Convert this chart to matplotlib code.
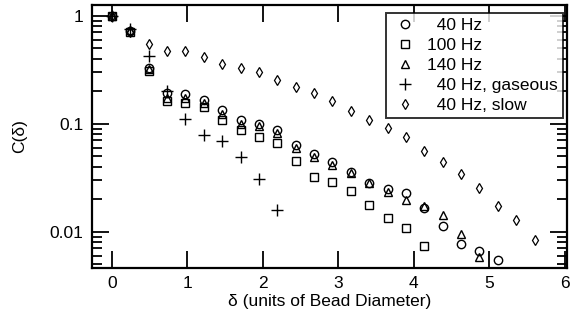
import numpy as np
import matplotlib
matplotlib.use("Agg")
import matplotlib.pyplot as plt
from matplotlib.ticker import FixedLocator, FixedFormatter, LogLocator, NullFormatter

plt.rcParams['font.family'] = ['Liberation Sans', 'DejaVu Sans']

step = 0.2435  # spacing of the bins in bead diameters

c_40 = [1.0, 0.72, 0.33, 0.192, 0.19, 0.167, 0.133, 0.107, 0.1, 0.088, 0.064,
        0.0524, 0.0443, 0.0358, 0.028, 0.0248, 0.0226, 0.0167, 0.0112, 0.0076,
        0.0066, 0.0055]
c_100 = [1.0, 0.70, 0.31, 0.161, 0.157, 0.143, 0.109, 0.088, 0.076, 0.066, 0.045,
         0.0322, 0.0289, 0.024, 0.0175, 0.0133, 0.0108, 0.0073]
c_140 = [1.0, 0.74, 0.32, 0.174, 0.173, 0.156, 0.123, 0.1, 0.096, 0.082, 0.06,
         0.0487, 0.041, 0.035, 0.028, 0.0233, 0.0198, 0.0174, 0.0141, 0.0094,
         0.0058]
c_gas = [1.0, 0.75, 0.426, 0.2, 0.11, 0.079, 0.0686, 0.0492, 0.031, 0.016]
c_slow = [1.0, 0.70, 0.547, 0.467, 0.467, 0.415, 0.357, 0.328, 0.299, 0.252, 0.217,
          0.192, 0.161, 0.132, 0.107, 0.0918, 0.0746, 0.0554, 0.0439, 0.0344,
          0.0254, 0.0171, 0.0127, 0.0083]

labels = ['  40 Hz', '100 Hz', '140 Hz', '  40 Hz, gaseous', '  40 Hz, slow']

def xs(vals):
    return np.arange(len(vals)) * step

fig = plt.figure(figsize=(5.71, 3.28), dpi=100)
ax = fig.add_axes([0.161, 0.183, 0.832, 0.802])

ax.plot(xs(c_40), c_40, 'o', mfc='none', mec='k', ms=6, mew=1.0, label=labels[0])
ax.plot(xs(c_100), c_100, 's', mfc='none', mec='k', ms=5.5, mew=1.0, label=labels[1])
ax.plot(xs(c_140), c_140, '^', mfc='none', mec='k', ms=6, mew=1.0, label=labels[2])
ax.plot(xs(c_gas), c_gas, '+', color='k', ms=8, mew=1.0, label=labels[3])
ax.plot(xs(c_slow), c_slow, 'd', mfc='none', mec='k', ms=5, mew=0.9, label=labels[4])

ax.set_yscale('log')
ax.set_xlim(-0.265, 6.03)
ax.set_ylim(0.0046, 1.26)

ax.xaxis.set_major_locator(FixedLocator([0, 1, 2, 3, 4, 5, 6]))
ax.yaxis.set_major_locator(FixedLocator([0.01, 0.1, 1]))
ax.yaxis.set_major_formatter(FixedFormatter(['0.01', '0.1', '1']))
ax.yaxis.set_minor_locator(LogLocator(base=10, subs=np.arange(2, 10)))
ax.yaxis.set_minor_formatter(NullFormatter())

ax.tick_params(which='both', direction='in', top=True, right=True, labelsize=12.5,
               width=1.3, colors='k')
ax.tick_params(which='major', length=12, pad=6)
ax.tick_params(which='minor', length=7)
for s in ax.spines.values():
    s.set_linewidth(1.6)

ax.set_xlabel('δ (units of Bead Diameter)', fontsize=12.5, labelpad=2)
ax.set_ylabel('C(δ)', fontsize=12.5, labelpad=16)

leg = ax.legend(loc='upper right', fontsize=12.5, frameon=True, fancybox=False,
                edgecolor='k', handletextpad=0.5, labelspacing=0.28,
                borderpad=0.3, handlelength=1.6, borderaxespad=0,
                bbox_to_anchor=(0.992, 0.97))
leg.get_frame().set_linewidth(1.4)

fig.savefig('out.png', dpi=100)
